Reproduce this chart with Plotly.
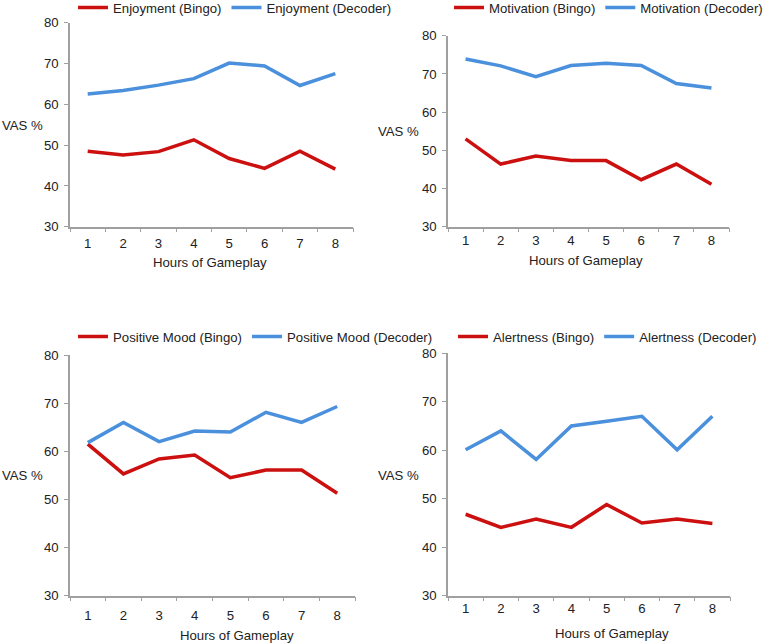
import plotly.graph_objects as go

hours = ["1", "2", "3", "4", "5", "6", "7", "8"]

enjoy_bingo = [48.5, 47.6, 48.4, 51.3, 46.7, 44.3, 48.5, 44.1]
enjoy_decoder = [62.5, 63.4, 64.7, 66.3, 70.1, 69.4, 64.6, 67.5]

motiv_bingo = [53.0, 46.4, 48.5, 47.3, 47.3, 42.3, 46.4, 41.1]
motiv_decoder = [73.9, 72.1, 69.3, 72.2, 72.8, 72.2, 67.5, 66.3]

mood_bingo = [61.5, 55.3, 58.4, 59.2, 54.5, 56.1, 56.1, 51.3]
mood_decoder = [61.8, 66.0, 62.0, 64.2, 64.0, 68.1, 66.0, 69.3]

alert_bingo = [46.8, 44.1, 45.8, 44.1, 48.8, 45.0, 45.8, 44.9]
alert_decoder = [60.1, 64.0, 58.1, 65.0, 66.0, 67.0, 60.1, 67.0]

panels = [
    ("Enjoyment", enjoy_bingo, enjoy_decoder),
    ("Motivation", motiv_bingo, motiv_decoder),
    ("Positive Mood", mood_bingo, mood_decoder),
    ("Alertness", alert_bingo, alert_decoder),
]

W, H = 767, 643
RED = "#CC1010"
BLUE = "#4A90DC"
AXIS = "#A0A0A0"
TXT = "#222222"
FONT = "Liberation Sans, Arial, Helvetica, sans-serif"
FS = 13.2

# pixel boxes for each panel: (x0, x1, ytop, ybottom)
boxes = [
    (70, 353, 22.7, 226.7),
    (448, 729, 35.7, 226.7),
    (70, 355, 355, 595.7),
    (448, 730, 353.3, 595.7),
]
xstand = [4, 1, 7, 0]
legend_pos = [(73, 8), (449, 8), (73, 337), (453, 337)]
vas_pos = [(22, 125), (398, 131.7), (22, 475), (398, 475)]
xtitle_pos = [(210, 262), (586, 260), (237, 635), (612, 633)]

fig = go.Figure()
layout = dict(
    width=W, height=H,
    margin=dict(l=0, r=0, t=0, b=0, autoexpand=False),
    paper_bgcolor="white", plot_bgcolor="white",
    font=dict(family=FONT, size=FS, color=TXT),
    annotations=[],
)

for i, (name, bingo, decoder) in enumerate(panels):
    n = i + 1
    xa = "x" if n == 1 else f"x{n}"
    ya = "y" if n == 1 else f"y{n}"
    lg = "legend" if n == 1 else f"legend{n}"
    fig.add_trace(go.Scatter(x=hours, y=bingo, mode="lines", name=f"{name} (Bingo)",
                             line=dict(color=RED, width=3.5), xaxis=xa, yaxis=ya, legend=lg))
    fig.add_trace(go.Scatter(x=hours, y=decoder, mode="lines", name=f"{name} (Decoder)",
                             line=dict(color=BLUE, width=3.5), xaxis=xa, yaxis=ya, legend=lg))
    x0, x1, yt, yb = boxes[i]
    xkey = "xaxis" if n == 1 else f"xaxis{n}"
    ykey = "yaxis" if n == 1 else f"yaxis{n}"
    layout[xkey] = dict(
        domain=[x0 / W, x1 / W], anchor=ya, type="category",
        range=[-0.5, 7.5], tickson="boundaries", ticks="outside", ticklen=4,
        tickcolor=AXIS, showline=True, linecolor=AXIS, linewidth=1.5,
        showgrid=False, zeroline=False, tickfont=dict(size=FS, color=TXT),
        ticklabelstandoff=xstand[i], automargin=False, fixedrange=True,
    )
    layout[ykey] = dict(
        domain=[1 - yb / H, 1 - yt / H], anchor=xa, range=[30, 80],
        tickvals=[30, 40, 50, 60, 70, 80], ticks="outside", ticklen=4,
        tickcolor=AXIS, showline=True, linecolor=AXIS, linewidth=1.5,
        showgrid=False, zeroline=False, tickfont=dict(size=FS, color=TXT),
        ticklabelstandoff=3, automargin=False, fixedrange=True,
    )
    lx, ly = legend_pos[i]
    layout[lg] = dict(
        x=lx / W, y=1 - ly / H, xanchor="left", yanchor="middle",
        orientation="h", font=dict(size=FS, color=TXT),
        bgcolor="rgba(0,0,0,0)", itemwidth=30, tracegroupgap=0,
    )
    vx, vy = vas_pos[i]
    layout["annotations"].append(dict(
        text="VAS %", x=vx / W, y=1 - vy / H, xref="paper", yref="paper",
        showarrow=False, xanchor="center", yanchor="middle", font=dict(size=FS)))
    tx, ty = xtitle_pos[i]
    layout["annotations"].append(dict(
        text="Hours of Gameplay", x=tx / W, y=1 - ty / H, xref="paper", yref="paper",
        showarrow=False, xanchor="center", yanchor="middle", font=dict(size=FS)))

fig.update_layout(**layout)
fig.write_html(
    "out.html",
    config={"displayModeBar": False},
    post_script="document.body.style.margin='0';document.body.style.overflow='hidden';",
)
